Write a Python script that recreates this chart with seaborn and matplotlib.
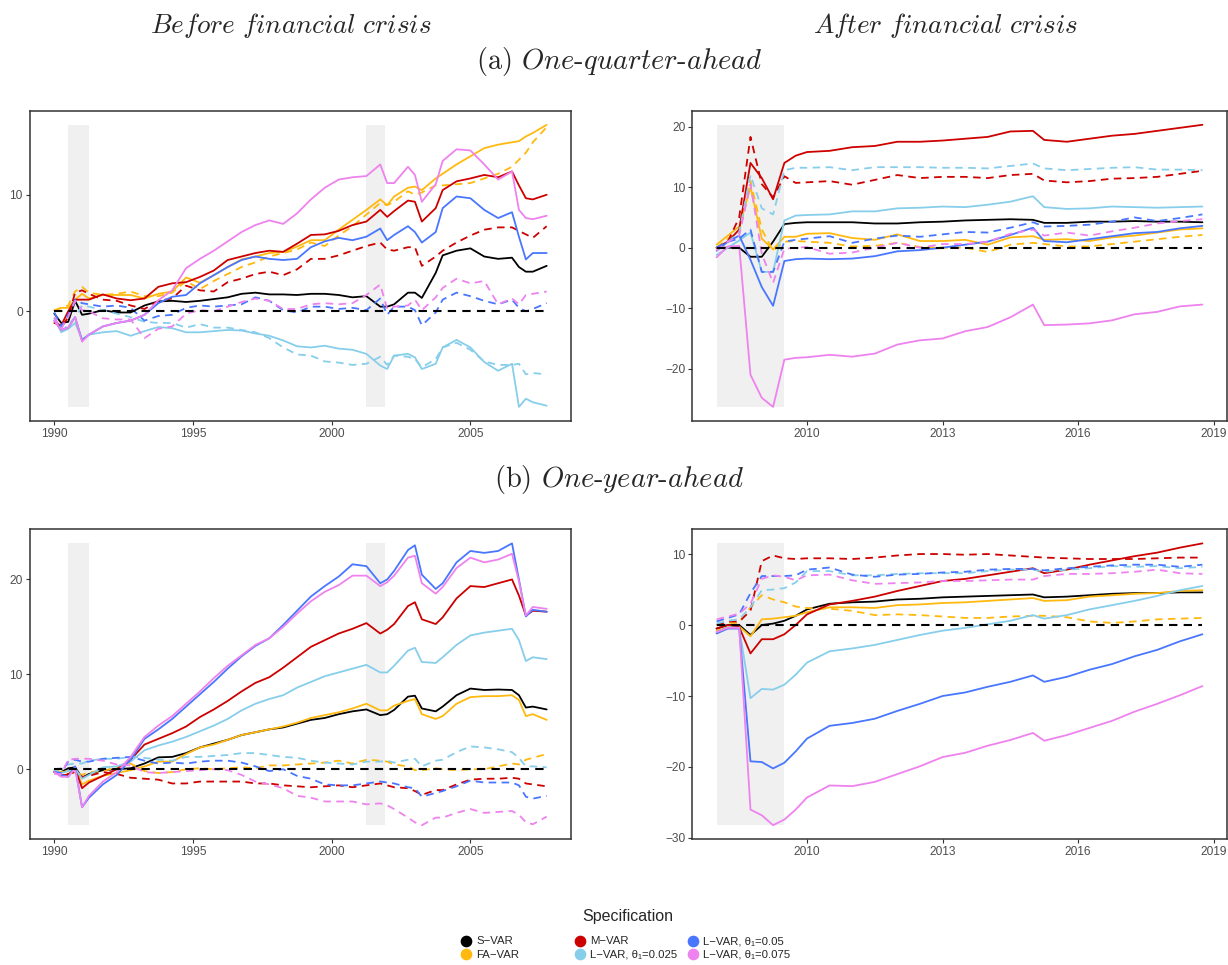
import numpy as np
import pandas as pd
import matplotlib
matplotlib.use("Agg")
import matplotlib.pyplot as plt
import seaborn as sns
from matplotlib.lines import Line2D
from matplotlib.ticker import MultipleLocator, FixedLocator

# ---------------------------------------------------------------- data
specs = ["S-VAR", "FA-VAR", "M-VAR", "L-VAR 0.025", "L-VAR 0.05", "L-VAR 0.075"]
spec_labels = ["S\u2212VAR", "FA\u2212VAR", "M\u2212VAR",
               "L\u2212VAR, \u03b8\u2081=0.025", "L\u2212VAR, \u03b8\u2081=0.05",
               "L\u2212VAR, \u03b8\u2081=0.075"]
spec_colors = ["#000000", "#FFB90F", "#CD0000", "#87CEEB", "#4876FF", "#EE82EE"]

before_dates = [1990.0, 1990.25, 1990.5, 1990.75, 1991.0, 1991.25, 1991.75, 1992.25, 1992.75,
                1993.25, 1993.75, 1994.25, 1994.75, 1995.25, 1995.75, 1996.25, 1996.75,
                1997.25, 1997.75, 1998.25, 1998.75, 1999.25, 1999.75, 2000.25, 2000.75,
                2001.25, 2001.75, 2002.0, 2002.25, 2002.75, 2003.0, 2003.25, 2003.75,
                2004.0, 2004.5, 2005.0, 2005.5, 2006.0, 2006.5, 2006.75, 2007.0, 2007.25, 2007.75]
after_dates = [2008.0, 2008.25, 2008.5, 2008.75, 2009.0, 2009.25, 2009.5, 2009.75, 2010.0,
               2010.5, 2011.0, 2011.5, 2012.0, 2012.5, 2013.0, 2013.5, 2014.0, 2014.5,
               2015.0, 2015.25, 2015.75, 2016.25, 2016.75, 2017.25, 2017.75, 2018.25, 2018.75]

recessions_before = [(1990.5, 1991.25), (2001.25, 2001.92)]
recessions_after = [(2008.0, 2009.5)]

# (a) one-quarter-ahead, before crisis: solid lines
qb_svar = [-0.2, -1.0, -0.9, 0.9, -0.3, -0.2, 0.1, -0.1, -0.1, 0.5, 0.85, 0.9, 0.8, 0.9, 1.05, 1.2, 1.5, 1.6, 1.45, 1.45, 1.4, 1.5, 1.5, 1.4, 1.2, 1.3, 0.4, 0.4, 0.6, 1.6, 1.6, 1.15, 3.3, 4.8, 5.2, 5.4, 4.7, 4.5, 4.6, 3.8, 3.4, 3.4, 3.9]
qb_favar = [0.1, 0.3, 0.3, 1.0, 1.5, 1.1, 1.4, 1.4, 1.4, 1.1, 1.5, 1.7, 2.9, 2.45, 3.1, 3.8, 4.45, 4.7, 5.0, 5.1, 5.55, 6.1, 6.1, 7.0, 7.85, 8.7, 9.6, 9.1, 9.85, 10.6, 10.7, 10.4, 11.4, 11.8, 12.6, 13.3, 14.0, 14.3, 14.5, 14.6, 15.0, 15.3, 16.0]
qb_mvar = [-1.0, -1.2, 0.0, 1.0, 1.0, 1.0, 1.45, 1.1, 0.95, 1.1, 2.1, 2.4, 2.5, 2.95, 3.5, 4.4, 4.7, 5.0, 5.2, 5.1, 5.8, 6.55, 6.6, 6.9, 7.4, 7.7, 8.7, 8.1, 8.6, 9.5, 9.4, 7.7, 8.85, 10.4, 11.15, 11.4, 11.7, 11.5, 12.0, 10.8, 9.7, 9.6, 10.0]
qb_l025 = [-0.6, -1.8, -1.5, -1.0, -2.4, -2.0, -1.8, -1.7, -2.1, -1.7, -1.35, -1.45, -1.8, -1.8, -1.7, -1.6, -1.65, -1.9, -2.1, -2.5, -3.0, -3.1, -2.95, -3.2, -3.3, -3.65, -4.65, -4.95, -3.8, -3.65, -3.95, -4.95, -4.5, -3.1, -2.45, -3.1, -4.35, -5.1, -4.5, -8.2, -7.5, -7.8, -8.1]
qb_l05 = [-0.8, -1.6, -1.4, -0.5, -2.5, -2.0, -1.3, -1.0, -0.8, -0.3, 0.7, 1.25, 1.4, 2.4, 3.1, 3.8, 4.4, 4.7, 4.5, 4.4, 4.5, 5.5, 6.0, 6.3, 6.1, 6.4, 7.1, 6.1, 6.55, 7.3, 6.8, 5.9, 6.8, 8.85, 9.85, 9.7, 8.7, 8.0, 8.5, 6.4, 4.45, 5.0, 5.0]
qb_l075 = [-0.8, -1.6, -1.4, -0.5, -2.6, -2.0, -1.3, -1.0, -0.8, -0.3, 0.95, 1.8, 3.7, 4.5, 5.2, 6.0, 6.8, 7.4, 7.8, 7.5, 8.4, 9.6, 10.6, 11.3, 11.5, 11.6, 12.6, 11.0, 11.0, 12.4, 11.7, 9.4, 10.9, 12.9, 13.9, 13.8, 12.6, 11.3, 12.0, 8.7, 8.0, 7.9, 8.2]
# dashed lines
qb_favar_d = [0.0, 0.3, 0.5, 1.7, 2.1, 1.6, 1.4, 1.5, 1.7, 1.3, 1.3, 1.6, 2.6, 1.9, 2.6, 3.2, 3.8, 4.2, 4.7, 5.0, 5.3, 5.9, 5.6, 6.5, 7.3, 8.3, 9.3, 9.1, 9.4, 10.3, 10.0, 10.2, 10.8, 10.8, 10.9, 11.0, 11.4, 11.8, 12.4, 13.0, 13.6, 14.5, 15.8]
qb_mvar_d = [-0.8, -1.4, -0.5, 1.6, 1.8, 1.5, 1.0, 0.9, 0.5, 0.2, 0.9, 1.1, 2.2, 1.8, 1.7, 2.5, 2.8, 3.2, 3.4, 3.1, 3.6, 4.5, 4.5, 4.8, 5.2, 5.6, 5.9, 5.3, 5.2, 5.5, 5.5, 3.9, 4.7, 5.2, 5.9, 6.5, 7.0, 7.2, 7.2, 6.9, 6.6, 6.3, 7.3]
qb_l025_d = [-0.7, -1.7, -1.2, -0.5, 0.5, 0.4, 0.1, -0.2, -0.5, -0.9, -1.0, -1.0, -1.4, -1.1, -1.4, -1.4, -1.6, -1.8, -2.3, -3.1, -3.7, -3.8, -4.3, -4.4, -4.6, -4.5, -3.9, -4.6, -3.8, -3.9, -4.1, -4.8, -4.1, -3.1, -2.7, -3.3, -4.3, -4.6, -4.6, -4.5, -5.4, -5.3, -5.4]
qb_l05_d = [-0.1, -1.3, -0.3, 1.0, 0.7, 0.6, 0.4, 0.5, 0.3, -0.8, -0.4, -0.3, 0.3, 0.5, 0.4, 0.5, 0.6, 1.2, 0.9, 0.1, -0.1, 0.4, 0.4, 0.2, 0.3, 0.1, 1.1, -0.3, 0.4, 0.4, 0.1, -1.2, -0.1, 1.0, 1.6, 1.3, 0.9, 0.6, 1.0, 0.3, 0.0, 0.2, 0.7]
qb_l075_d = [-0.5, -1.5, -0.5, 0.9, 0.1, 0.0, -0.6, -0.7, -0.7, -2.3, -1.5, -1.3, -0.2, 0.1, 0.0, 0.4, 0.8, 1.1, 0.9, 0.2, 0.2, 0.6, 0.7, 0.6, 0.7, 1.4, 2.3, 0.2, 0.4, 0.5, 1.0, 0.1, 1.2, 2.0, 2.8, 2.4, 2.6, 0.6, 1.1, 0.6, 1.4, 1.5, 1.7]

# (a) one-quarter-ahead, after crisis
qa_svar = [0.0, 0.0, 0.0, -1.5, -1.5, 1.0, 3.9, 4.1, 4.2, 4.2, 4.2, 4.0, 4.0, 4.2, 4.3, 4.5, 4.6, 4.7, 4.6, 4.1, 4.1, 4.3, 4.3, 4.4, 4.3, 4.3, 4.2]
qa_favar = [0.5, 2.0, 3.5, 10.0, 1.5, -0.3, 1.8, 1.8, 2.3, 2.4, 1.6, 1.3, 2.2, 1.1, 1.1, 1.3, 0.5, 1.7, 1.9, 1.3, 1.4, 1.1, 1.7, 2.0, 2.5, 3.0, 3.2]
qa_mvar = [0.0, 1.0, 3.0, 14.0, 11.5, 8.0, 14.0, 15.2, 15.8, 16.0, 16.6, 16.8, 17.5, 17.5, 17.7, 18.0, 18.3, 19.2, 19.3, 17.8, 17.5, 18.0, 18.5, 18.8, 19.3, 19.8, 20.3]
qa_l025 = [-1.2, 0.0, 1.2, 2.5, -4.0, -4.0, 4.5, 5.3, 5.4, 5.5, 6.0, 6.0, 6.5, 6.6, 6.8, 6.7, 7.1, 7.6, 8.5, 6.7, 6.4, 6.5, 6.8, 6.7, 6.6, 6.7, 6.8]
qa_l05 = [-0.5, 1.0, 2.0, -2.0, -6.5, -9.6, -2.2, -1.9, -1.8, -1.9, -1.8, -1.4, -0.6, -0.4, 0.0, 0.5, 1.0, 2.1, 3.3, 1.1, 0.9, 1.4, 1.9, 2.4, 2.6, 3.2, 3.6]
qa_l075 = [-1.6, 0.2, 0.3, -21.0, -24.8, -26.3, -18.5, -18.2, -18.1, -17.7, -18.0, -17.5, -16.0, -15.3, -15.0, -13.8, -13.1, -11.5, -9.4, -12.8, -12.7, -12.5, -12.0, -11.0, -10.6, -9.7, -9.4]
qa_favar_d = [0.0, 1.5, 2.5, 11.0, 3.0, -0.5, 1.0, 1.1, 1.0, 0.8, 0.2, 0.3, 0.8, 0.1, 0.0, 0.0, -0.7, 0.5, 0.8, 0.6, 0.2, 0.2, 0.6, 1.0, 1.4, 1.8, 2.1]
qa_mvar_d = [0.0, 1.0, 5.0, 18.3, 10.5, 8.3, 11.8, 10.7, 10.8, 11.0, 10.4, 11.2, 12.0, 11.5, 11.7, 11.7, 11.5, 12.0, 12.2, 11.1, 10.8, 11.0, 11.4, 11.5, 11.7, 12.2, 12.7]
qa_l025_d = [0.0, 1.0, 2.5, 12.0, 6.5, 5.5, 12.8, 13.2, 13.2, 13.3, 12.8, 13.3, 13.3, 13.3, 13.2, 13.2, 13.1, 13.5, 13.9, 13.1, 12.8, 13.0, 13.2, 13.3, 12.9, 12.9, 12.8]
qa_l05_d = [0.0, 1.0, 1.5, 3.0, -4.0, -4.0, 1.0, 1.3, 1.5, 1.9, 0.8, 1.5, 2.0, 1.8, 2.2, 2.6, 2.5, 3.3, 4.2, 3.5, 3.6, 3.8, 4.3, 5.0, 4.4, 4.9, 5.5]
qa_l075_d = [-0.5, 1.0, 2.0, 10.5, -1.0, -5.8, -0.2, 0.0, 0.1, -1.0, -0.8, 0.0, 0.8, 0.0, 0.6, 0.6, 1.0, 2.3, 3.0, 2.0, 2.5, 2.0, 2.7, 3.3, 4.0, 4.4, 4.7]

# (b) one-year-ahead, before crisis
yb_svar = [-0.3, -0.3, 0.1, 0.2, -0.9, -0.5, -0.1, 0.0, 0.1, 0.6, 1.25, 1.3, 1.7, 2.3, 2.7, 3.1, 3.6, 3.9, 4.2, 4.4, 4.8, 5.2, 5.4, 5.8, 6.1, 6.3, 5.7, 5.8, 6.25, 7.65, 7.75, 6.4, 6.1, 6.6, 7.8, 8.5, 8.35, 8.4, 8.35, 7.8, 6.5, 6.6, 6.3]
yb_favar = [-0.1, -0.3, -0.2, 0.1, -1.6, -1.2, -0.7, -0.4, -0.1, 0.3, 0.8, 0.8, 1.6, 2.3, 2.6, 3.1, 3.6, 3.9, 4.2, 4.5, 4.9, 5.4, 5.7, 6.0, 6.4, 6.9, 6.2, 6.2, 6.7, 7.2, 7.4, 5.8, 5.3, 5.6, 6.9, 7.6, 7.7, 7.7, 7.8, 7.3, 5.6, 5.8, 5.2]
yb_mvar = [-0.3, -0.6, -0.6, 0.1, -2.0, -1.4, -0.7, 0.0, 1.0, 2.6, 3.2, 3.8, 4.5, 5.5, 6.3, 7.2, 8.2, 9.1, 9.7, 10.7, 11.8, 12.9, 13.6, 14.3, 14.8, 15.4, 14.3, 14.7, 15.3, 17.2, 17.6, 15.8, 15.3, 16.0, 18.0, 19.3, 19.2, 19.6, 20.0, 18.3, 16.2, 16.7, 16.6]
yb_l025 = [-0.1, -0.4, -0.2, 0.1, -1.0, -0.6, 0.2, 0.3, 0.8, 2.0, 2.5, 2.9, 3.4, 4.0, 4.6, 5.3, 6.2, 6.9, 7.4, 7.8, 8.6, 9.2, 9.8, 10.2, 10.6, 11.0, 10.2, 10.2, 10.9, 12.5, 12.8, 11.3, 11.2, 11.8, 13.1, 14.1, 14.4, 14.6, 14.8, 13.6, 11.4, 11.8, 11.6]
yb_l05 = [-0.3, -0.6, -0.8, 0.3, -4.0, -3.0, -1.6, -0.6, 1.0, 3.2, 4.2, 5.3, 6.6, 7.9, 9.2, 10.6, 11.9, 13.0, 13.8, 15.2, 16.7, 18.2, 19.3, 20.3, 21.6, 21.4, 19.6, 20.0, 20.9, 23.1, 23.6, 20.5, 19.0, 19.6, 21.8, 23.0, 22.8, 23.0, 23.8, 20.0, 16.1, 16.8, 16.6]
yb_l075 = [-0.3, -0.8, -0.8, 0.1, -4.0, -2.8, -1.3, -0.3, 1.3, 3.4, 4.6, 5.6, 6.9, 8.2, 9.6, 10.9, 12.0, 13.1, 13.8, 15.0, 16.4, 17.7, 18.7, 19.4, 20.4, 20.4, 19.3, 19.7, 20.4, 22.3, 22.5, 19.6, 18.5, 19.2, 21.2, 22.3, 21.8, 22.1, 22.7, 19.8, 16.2, 17.1, 16.9]
yb_favar_d = [0.0, -0.4, -0.5, -0.3, -0.6, -0.3, -0.2, 0.2, 0.6, -0.2, -0.4, -0.3, 0.0, 0.1, 0.0, 0.1, 0.2, 0.1, 0.4, 0.4, 0.5, 0.6, 0.7, 0.9, 0.6, 1.0, 0.9, 0.8, 0.5, 0.3, -0.1, -0.1, 0.1, 0.0, -0.1, 0.0, 0.0, 0.3, 0.6, 0.5, 1.0, 1.2, 1.6]
yb_mvar_d = [-0.3, -0.5, -0.5, -0.3, -0.8, -0.7, -0.3, -0.5, -0.9, -1.0, -1.1, -1.5, -1.5, -1.3, -1.3, -1.3, -1.3, -1.5, -1.5, -1.7, -1.8, -1.9, -1.8, -1.7, -1.9, -1.7, -1.5, -1.7, -1.9, -2.0, -2.3, -2.7, -2.2, -2.2, -1.6, -1.1, -1.0, -1.0, -0.9, -1.0, -1.5, -1.6, -1.8]
yb_l025_d = [0.0, 0.1, 0.5, 0.6, 0.6, 0.9, 1.1, 1.1, 1.3, 1.2, 1.0, 0.9, 1.3, 1.3, 1.4, 1.5, 1.7, 1.7, 1.5, 1.3, 1.2, 0.9, 0.7, 0.6, 0.5, 0.8, 0.8, 0.9, 0.7, 1.0, 1.1, 0.3, 0.9, 1.0, 1.8, 2.4, 2.3, 2.1, 1.8, 1.2, 0.3, 0.3, 0.2]
yb_l05_d = [-0.3, -0.4, 0.8, 1.0, 0.8, 0.8, 1.1, 1.2, 1.3, 0.9, 0.6, 0.7, 0.6, 0.8, 0.9, 0.9, 0.7, 0.3, -0.2, 0.0, -0.7, -1.0, -1.6, -1.7, -1.7, -1.5, -1.3, -1.4, -1.5, -1.9, -2.0, -2.9, -2.5, -2.3, -1.8, -1.2, -1.4, -1.4, -1.4, -1.7, -2.9, -3.1, -2.8]
yb_l075_d = [-0.5, -0.5, 1.0, 1.1, 1.1, 1.1, 0.9, 0.5, 0.4, -0.3, -0.4, -0.3, -0.2, -0.1, 0.0, -0.1, -0.6, -1.3, -1.6, -2.0, -2.8, -3.0, -3.4, -3.4, -3.4, -3.7, -3.6, -3.8, -4.2, -5.1, -5.6, -5.9, -5.1, -5.1, -4.6, -4.2, -4.6, -4.5, -4.4, -4.8, -5.6, -5.8, -5.0]

# (b) one-year-ahead, after crisis
ya_svar = [-0.5, 0.0, 0.0, -1.4, 0.0, 0.2, 0.6, 1.3, 2.2, 3.0, 3.2, 3.3, 3.6, 3.7, 3.9, 4.0, 4.1, 4.2, 4.3, 3.9, 4.0, 4.2, 4.4, 4.5, 4.5, 4.6, 4.6]
ya_favar = [-0.8, -0.3, -0.2, -1.6, 0.8, 0.9, 1.1, 1.3, 1.8, 2.5, 2.5, 2.4, 2.8, 2.9, 3.1, 3.2, 3.4, 3.6, 3.8, 3.4, 3.5, 4.0, 4.2, 4.4, 4.5, 4.8, 4.9]
ya_mvar = [-0.5, 0.0, -0.3, -4.0, -2.0, -2.0, -1.3, 0.0, 1.5, 2.9, 3.4, 4.0, 4.8, 5.5, 6.2, 6.5, 7.0, 7.5, 8.0, 7.3, 7.8, 8.5, 9.1, 9.7, 10.2, 10.9, 11.5]
ya_l025 = [-1.0, -0.3, -0.4, -10.3, -9.0, -9.1, -8.4, -7.0, -5.3, -3.7, -3.3, -2.8, -2.1, -1.4, -0.8, -0.4, 0.1, 0.6, 1.4, 0.9, 1.4, 2.2, 2.8, 3.4, 4.1, 4.9, 5.5]
ya_l05 = [-1.2, -0.5, -0.5, -19.2, -19.3, -20.2, -19.4, -17.8, -16.0, -14.2, -13.8, -13.2, -12.1, -11.1, -10.0, -9.5, -8.7, -8.0, -7.1, -8.0, -7.3, -6.3, -5.5, -4.4, -3.5, -2.3, -1.3]
ya_l075 = [-1.0, -0.4, -0.4, -26.0, -26.8, -28.2, -27.4, -26.0, -24.3, -22.6, -22.7, -22.1, -21.0, -19.9, -18.6, -18.0, -17.0, -16.2, -15.2, -16.3, -15.5, -14.5, -13.5, -12.2, -11.1, -9.9, -8.6]
ya_favar_d = [0.0, 0.3, 0.3, 2.5, 4.2, 3.6, 3.2, 2.6, 2.4, 2.3, 2.0, 1.4, 1.5, 1.4, 1.2, 1.0, 1.0, 1.2, 1.3, 1.3, 1.1, 0.5, 0.3, 0.5, 0.8, 0.9, 1.0]
ya_mvar_d = [0.0, 0.5, 0.5, 2.0, 9.0, 9.8, 9.4, 9.3, 9.4, 9.4, 9.3, 9.5, 9.8, 10.0, 10.0, 9.9, 10.0, 9.8, 9.6, 9.5, 9.4, 9.3, 9.3, 9.3, 9.4, 9.5, 9.5]
ya_l025_d = [0.2, 0.6, 0.8, 2.5, 4.9, 5.0, 5.2, 6.0, 7.6, 7.6, 7.0, 7.0, 7.2, 7.3, 7.3, 7.3, 7.6, 7.8, 7.8, 7.5, 7.8, 8.0, 8.3, 8.2, 8.3, 8.0, 8.2]
ya_l05_d = [0.5, 1.0, 1.5, 4.5, 6.9, 6.9, 6.9, 7.0, 7.8, 8.1, 7.1, 6.8, 7.1, 7.2, 7.4, 7.5, 7.8, 7.9, 7.9, 7.7, 8.0, 8.2, 8.4, 8.5, 8.5, 8.2, 8.5]
ya_l075_d = [0.8, 1.2, 1.6, 3.0, 6.5, 7.0, 6.8, 6.3, 7.0, 7.1, 6.3, 5.8, 5.9, 6.0, 6.2, 6.2, 6.3, 6.4, 6.4, 6.9, 7.2, 7.2, 7.3, 7.5, 7.8, 7.3, 7.2]

before_ticks = [1990, 1995, 2000, 2005]
after_ticks = [2010, 2013, 2016, 2019]

# ---------------------------------------------------------------- style
sns.set_style("white")
plt.rcParams["font.family"] = ["Liberation Sans", "DejaVu Sans"]
plt.rcParams["axes.unicode_minus"] = True

W, H = 1228, 965
fig = plt.figure(figsize=(W / 100, H / 100), dpi=100)

SOLID_LW = 1.3
DASH = (4.2, 3.0)
SHADE = "#F0F0F0"
FRAME = "#333333"
TICKLAB = "#4D4D4D"


def build_df(dates, solid, dashed):
    rows = []
    for spec, vals in zip(specs, solid):
        for d, v in zip(dates, vals):
            rows.append((d, v, spec, "solid"))
    for spec, vals in zip(specs[1:], dashed):
        for d, v in zip(dates, vals):
            rows.append((d, v, spec, "dashed"))
    return pd.DataFrame(rows, columns=["date", "value", "spec", "kind"])


def panel(rect, dates, solid, dashed, recessions, xticks):
    ax = fig.add_axes(rect)
    df = build_df(dates, solid, dashed)
    lo = min(df["value"].min(), 0.0)
    hi = max(df["value"].max(), 0.0)
    for a, b in recessions:
        ax.fill_between([a, b], [lo, lo], [hi, hi], color=SHADE, lw=0, zorder=0)
    sns.lineplot(data=df, x="date", y="value", hue="spec", style="kind",
                 hue_order=specs, style_order=["solid", "dashed"],
                 palette=dict(zip(specs, spec_colors)),
                 dashes={"solid": "", "dashed": DASH},
                 estimator=None, legend=False, linewidth=SOLID_LW, ax=ax)
    # S-VAR benchmark (dashed zero line over the sample)
    ax.hlines(0, dates[0], dates[-1], colors="black", linestyles=(0, (4.0, 3.0)),
              lw=1.5, zorder=3)
    x0, x1 = dates[0], dates[-1]
    px = 0.05 * (x1 - x0)
    py = 0.05 * (hi - lo)
    ax.set_xlim(x0 - px, x1 + px)
    ax.set_ylim(lo - py, hi + py)
    ax.xaxis.set_major_locator(FixedLocator(xticks))
    ax.yaxis.set_major_locator(MultipleLocator(10))
    ax.set_xticklabels([str(t) for t in xticks])
    ax.set_xlabel("")
    ax.set_ylabel("")
    for s in ax.spines.values():
        s.set_visible(True)
        s.set_color(FRAME)
        s.set_linewidth(1.1)
    ax.tick_params(axis="both", which="major", direction="out", length=3, width=0.8,
                   color=FRAME, labelsize=8.6, labelcolor=TICKLAB, pad=2,
                   bottom=True, left=True)
    ax.grid(False)
    return ax


L_LEFT, L_W = 29.7 / W, 541.6 / W
R_LEFT, R_W = 692.3 / W, 534.4 / W
TOP_B, TOP_H = 1 - 421 / H, 310.3 / H
BOT_B, BOT_H = 1 - 839.3 / H, 310.0 / H

panel([L_LEFT, TOP_B, L_W, TOP_H], before_dates,
      [qb_svar, qb_favar, qb_mvar, qb_l025, qb_l05, qb_l075],
      [qb_favar_d, qb_mvar_d, qb_l025_d, qb_l05_d, qb_l075_d],
      recessions_before, before_ticks)
panel([R_LEFT, TOP_B, R_W, TOP_H], after_dates,
      [qa_svar, qa_favar, qa_mvar, qa_l025, qa_l05, qa_l075],
      [qa_favar_d, qa_mvar_d, qa_l025_d, qa_l05_d, qa_l075_d],
      recessions_after, after_ticks)
panel([L_LEFT, BOT_B, L_W, BOT_H], before_dates,
      [yb_svar, yb_favar, yb_mvar, yb_l025, yb_l05, yb_l075],
      [yb_favar_d, yb_mvar_d, yb_l025_d, yb_l05_d, yb_l075_d],
      recessions_before, before_ticks)
panel([R_LEFT, BOT_B, R_W, BOT_H], after_dates,
      [ya_svar, ya_favar, ya_mvar, ya_l025, ya_l05, ya_l075],
      [ya_favar_d, ya_mvar_d, ya_l025_d, ya_l05_d, ya_l075_d],
      recessions_after, after_ticks)

# ---------------------------------------------------------------- titles
fig.text(291 / W, 1 - 25 / H, r"$\mathit{Before\ financial\ crisis}$", math_fontfamily="cm",
         fontsize=19.5, ha="center", va="center")
fig.text(946 / W, 1 - 25 / H, r"$\mathit{After\ financial\ crisis}$", math_fontfamily="cm",
         fontsize=19.5, ha="center", va="center")
fig.text(619 / W, 1 - 62 / H, r"(a) $\mathit{One}$-$\mathit{quarter}$-$\mathit{ahead}$",
         family="cmr10", math_fontfamily="cm", fontsize=20.5, ha="center", va="center")
fig.text(619 / W, 1 - 480 / H, r"(b) $\mathit{One}$-$\mathit{year}$-$\mathit{ahead}$",
         family="cmr10", math_fontfamily="cm", fontsize=20.5, ha="center", va="center")

# ---------------------------------------------------------------- legend
fig.text(628 / W, 1 - 917 / H, "Specification", fontsize=11.5, ha="center", va="center")
col_x = [461.5, 575.5, 688.5]
for c in range(3):
    hs, ls = [], []
    for k in (2 * c, 2 * c + 1):
        hs.append(Line2D([], [], ls="", marker="o", markersize=7.4,
                         markerfacecolor=spec_colors[k], markeredgecolor=spec_colors[k]))
        ls.append(spec_labels[k])
    fig.legend(hs, ls, loc="upper left", bbox_to_anchor=(col_x[c] / W, 1 - 936.5 / H),
               frameon=False, ncol=1, handlelength=0.8, handletextpad=0.5,
               borderpad=0, borderaxespad=0, labelspacing=0.3,
               prop={"family": ["Liberation Sans", "DejaVu Sans"], "size": 8.2})

fig.savefig("out.png", dpi=100)
